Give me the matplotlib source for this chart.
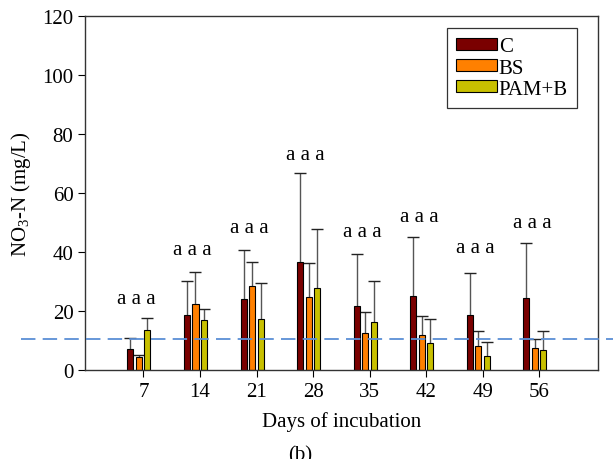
import numpy as np
import matplotlib
matplotlib.use("Agg")
import matplotlib.pyplot as plt

plt.rcParams['font.family'] = ['Liberation Serif', 'DejaVu Serif']
plt.rcParams['mathtext.fontset'] = 'custom'
plt.rcParams['mathtext.rm'] = 'Liberation Serif'

days = [7, 14, 21, 28, 35, 42, 49, 56]
series = ['C', 'BS', 'PAM+B']
c_mean = [7.1, 18.8, 24.0, 36.6, 21.9, 25.1, 18.8, 24.5]
c_top = [10.8, 30.3, 40.8, 66.8, 39.5, 45.3, 33.1, 43.1]
bs_mean = [4.5, 22.3, 28.7, 24.8, 12.7, 12.1, 8.2, 7.4]
bs_top = [5.2, 33.3, 36.6, 36.4, 19.8, 18.4, 13.3, 10.7]
pam_mean = [13.7, 17.0, 17.5, 27.7, 16.5, 9.2, 4.7, 6.7]
pam_top = [17.7, 20.9, 29.7, 48.0, 30.3, 17.2, 9.4, 13.3]
letters = ['a a a'] * 8
letter_y = [24.4, 41.0, 48.5, 73.0, 47.0, 52.0, 41.7, 50.0]
limit = 10.5

colors = ['#7a0000', '#ff8000', '#c8c000']
offsets = [-1.6, -0.55, 0.5]
width = 0.75

fig = plt.figure(figsize=(6.13, 4.6), dpi=100)
ax = fig.add_axes([0.139, 0.193, 0.837, 0.770])

x = np.array(days, dtype=float)
means = [c_mean, bs_mean, pam_mean]
tops = [c_top, bs_top, pam_top]
for i in range(3):
    xs = x + offsets[i]
    # upper error whisker only, drawn behind the bar
    ax.vlines(xs, means[i], tops[i], color='#555555', linewidth=1.0, zorder=1)
    ax.plot(xs, tops[i], linestyle='none', marker='_', markersize=8,
            markeredgewidth=1.0, color='#222222', zorder=1)
    ax.bar(xs, means[i], width, color=colors[i], edgecolor='black',
           linewidth=0.8, label=series[i], zorder=2)

for d, s, yy in zip(days, letters, letter_y):
    ax.text(d - 0.9, yy, s, ha='center', va='center', fontsize=15)

# dashed reference line, running a bit past the axes on both sides
ax.plot([-0.125, 1.03], [limit, limit], color='#5b8fd6', linestyle=(0, (8, 4)),
        linewidth=1.3, transform=ax.get_yaxis_transform(), clip_on=False, zorder=3)

ax.set_xlim(-0.2, 63.3)
ax.set_ylim(0, 120)
ax.set_xticks(days)
ax.set_yticks(range(0, 121, 20))
ax.tick_params(labelsize=15, direction='out', length=5, top=False, right=False)
for sp in ax.spines.values():
    sp.set_color('#333333')
    sp.set_linewidth(1.0)

ax.set_xlabel('Days of incubation', fontsize=15, labelpad=7)
ax.set_ylabel('NO$_3$-N (mg/L)', fontsize=15, labelpad=7)

leg = ax.legend(loc='upper right', bbox_to_anchor=(0.959, 0.966), borderaxespad=0,
                fontsize=15, handlelength=1.95, handleheight=0.5, handletextpad=0.1,
                labelspacing=0.1, borderpad=0.45, fancybox=False,
                edgecolor='#333333', framealpha=1)
leg.get_frame().set_linewidth(0.9)

fig.text(0.49, 0.03, '(b)', ha='center', va='top', fontsize=15)

fig.savefig('out.png', dpi=100)
